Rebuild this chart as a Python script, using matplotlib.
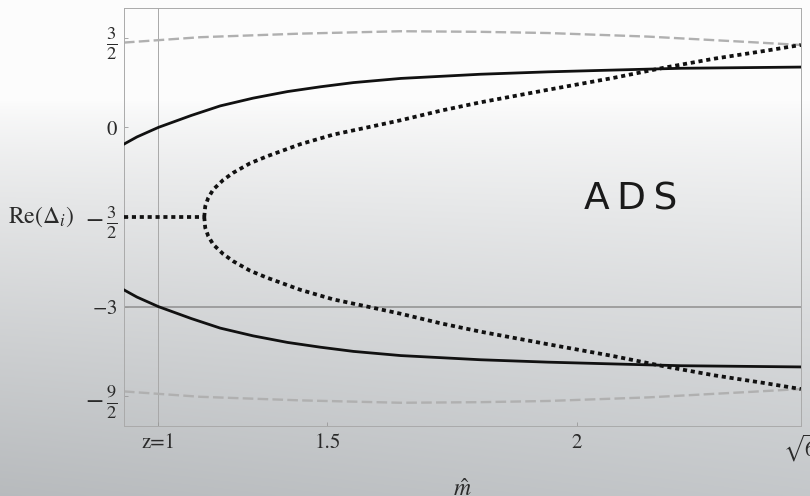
import numpy as np
import matplotlib
matplotlib.use('Agg')
import matplotlib.pyplot as plt

plt.rcParams['mathtext.fontset'] = 'stix'
plt.rcParams['font.family'] = ['STIXGeneral', 'DejaVu Serif']

# axis range (m-hat)
m_min, m_max = 1.092, np.sqrt(6)
m_z1 = 1.161

# solid black branches
solid_m = [1.092, 1.118, 1.161, 1.227, 1.285, 1.351, 1.420, 1.486, 1.552, 1.647, 1.807, 1.942, 2.074, 2.209, 2.449]
solid_up = [-0.28, -0.16, 0.00, 0.20, 0.36, 0.49, 0.60, 0.68, 0.75, 0.82, 0.89, 0.93, 0.96, 0.99, 1.01]
solid_dn = [-2.72, -2.84, -3.00, -3.20, -3.36, -3.49, -3.60, -3.68, -3.75, -3.82, -3.89, -3.93, -3.96, -3.99, -4.01]

# dotted branches (complex pair -> split)
flat_m = [1.092, 1.253]
flat_v = [-1.5, -1.5]
dot_m = [1.253, 1.255, 1.261, 1.271, 1.291, 1.311, 1.345, 1.380, 1.446, 1.512, 1.580, 1.647,
         1.727, 1.807, 1.942, 2.074, 2.175, 2.275, 2.376, 2.449]
dot_up = [-1.50, -1.32, -1.18, -1.04, -0.88, -0.76, -0.60, -0.48, -0.28, -0.12, 0.00, 0.12,
          0.28, 0.42, 0.63, 0.83, 1.00, 1.15, 1.28, 1.38]
dot_dn = [-1.50, -1.68, -1.82, -1.96, -2.12, -2.24, -2.40, -2.52, -2.72, -2.88, -3.00, -3.12,
          -3.28, -3.42, -3.63, -3.83, -4.00, -4.15, -4.28, -4.38]

# gray dashed bounds
dash_m = [1.092, 1.245, 1.446, 1.647, 1.807, 1.942, 2.143, 2.343, 2.449]
dash_up = [1.42, 1.51, 1.57, 1.61, 1.60, 1.58, 1.52, 1.43, 1.38]
dash_dn = [-4.42, -4.51, -4.57, -4.61, -4.60, -4.58, -4.52, -4.43, -4.38]

ytick_vals = [1.5, 0, -1.5, -3, -4.5]
ytick_labels = [r'$\frac{3}{2}$', '0', r'$-\,\frac{3}{2}$', r'$-3$', r'$-\,\frac{9}{2}$']
xtick_vals = [m_z1, 1.5, 2, np.sqrt(6)]
xtick_labels = ['z=1', '1.5', '2', r'$\sqrt{6}$']

fig = plt.figure(figsize=(8.1, 4.96), dpi=100)

# slide background gradient
bg = fig.add_axes([0, 0, 1, 1], zorder=-10)
yy, xx = np.mgrid[0:1:300j, 0:1:500j]
shade = np.clip((yy - 0.2) / 0.8, 0, 1) ** 0.8
val = 0.99 - 0.22 * shade - 0.05 * (1 - xx) * shade
img = np.dstack([val, val + 0.012 * shade, val + 0.022 * shade])
bg.imshow(np.clip(img, 0, 1), aspect='auto', extent=[0, 1, 0, 1], origin='upper')
bg.axis('off')

ax = fig.add_axes([0.153, 0.141, 0.836, 0.843])
ax.set_facecolor('none')

ax.axhline(-3, color='#9a9a9a', lw=1.3, zorder=1)
ax.axvline(m_z1, color='#a8a8a8', lw=0.7, zorder=1)

ax.plot(dash_m, dash_up, color='#b0b0b0', lw=1.7, dashes=(4.5, 1.8), zorder=2)
ax.plot(dash_m, dash_dn, color='#b0b0b0', lw=1.7, dashes=(4.5, 1.8), zorder=2)

ax.plot(solid_m, solid_up, color='#111111', lw=2.0, zorder=3, solid_joinstyle='round')
ax.plot(solid_m, solid_dn, color='#111111', lw=2.0, zorder=3, solid_joinstyle='round')

for xs, ys in [(flat_m, flat_v), (dot_m, dot_up), (dot_m, dot_dn)]:
    ax.plot(xs, ys, color='#111111', lw=2.7, dashes=(1.1, 1.0), zorder=4)

ax.text(2.108, -1.2, 'A\u2009D\u2009S', fontsize=27, family='DejaVu Sans',
        color='#1a1a1a', ha='center', va='center')

ax.set_xlim(m_min, m_max)
ax.set_ylim(-5, 2)
ax.set_xticks(xtick_vals)
ax.set_xticklabels(xtick_labels)
ax.set_yticks(ytick_vals)
ax.set_yticklabels(ytick_labels)
ax.tick_params(direction='in', length=3, width=0.6, color='#999999',
               labelsize=15, labelcolor='#2a2a2a', pad=5)
for lab, v in zip(ax.get_yticklabels(), ytick_vals):
    if v in (1.5, -1.5, -4.5):
        lab.set_fontsize(19)
for s in ax.spines.values():
    s.set_color('#aaaaaa')
    s.set_linewidth(0.7)

ax.set_xlabel(r'$\hat{m}$', fontsize=17, color='#2a2a2a', labelpad=11)
ax.set_ylabel(r'$\mathrm{Re}(\Delta_i)$', fontsize=17, color='#2a2a2a',
              rotation=0, ha='right', va='center')
ax.yaxis.set_label_coords(-0.073, 0.5)

fig.savefig('out.png', dpi=100)
